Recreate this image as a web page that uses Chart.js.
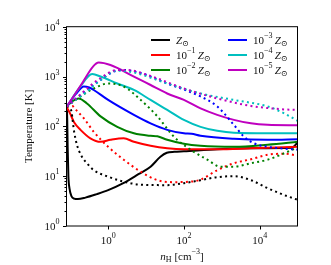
<!DOCTYPE html>
<html>
<head>
<meta charset="utf-8">
<script src="https://cdn.jsdelivr.net/npm/chart.js@4.4.1/dist/chart.umd.min.js"></script>
<style>
  html, body { margin: 0; padding: 0; background: #fff; }
</style>
</head>
<body>
<canvas id="chart" width="331" height="265"></canvas>
<script>
// --- DATA (log10 values) ---
// Solid lines
const solarN = [-1.09, -1.08, -1.07, -1.05, -1.02, -0.97, -0.9, -0.8, -0.6, -0.3, 0, 0.4, 0.8, 1.12, 1.38, 1.55, 1.75, 2.0, 2.9, 3.8, 4.85, 5.03];
const solarT = [2.40, 2.1, 1.6, 1.0, 0.75, 0.6, 0.55, 0.54, 0.57, 0.64, 0.72, 0.86, 1.04, 1.19, 1.39, 1.47, 1.49, 1.50, 1.54, 1.56, 1.57, 1.70];
const z1N = [-1.09, -1.0, -0.9, -0.73, -0.47, -0.2, 0.06, 0.41, 0.68, 1.12, 1.56, 2.0, 2.88, 3.77, 5.03];
const z1T = [2.38, 2.25, 2.08, 1.93, 1.76, 1.69, 1.73, 1.76, 1.69, 1.61, 1.56, 1.54, 1.54, 1.56, 1.59];
const z2N = [-1.09, -0.95, -0.78, -0.56, -0.2, 0.24, 0.68, 1.12, 1.3, 1.56, 2.0, 2.44, 3.32, 4.21, 5.03];
const z2T = [2.40, 2.5, 2.56, 2.46, 2.20, 1.99, 1.86, 1.81, 1.80, 1.73, 1.65, 1.61, 1.59, 1.63, 1.69];
const z3N = [-1.09, -0.85, -0.64, -0.5, -0.38, 0, 0.68, 1.12, 1.56, 2.0, 2.2, 2.44, 3.32, 4.21, 5.03];
const z3T = [2.40, 2.65, 2.80, 2.78, 2.73, 2.53, 2.23, 2.06, 1.93, 1.86, 1.85, 1.81, 1.75, 1.73, 1.74];
const z4N = [-1.09, -0.75, -0.42, -0.2, 0.24, 0.68, 1.12, 1.56, 2.0, 2.44, 2.88, 3.32, 4.21, 5.03];
const z4T = [2.40, 2.78, 3.05, 3.00, 2.86, 2.73, 2.53, 2.33, 2.13, 1.99, 1.91, 1.87, 1.86, 1.86];
const z5N = [-1.09, -0.7, -0.4, -0.25, 0.06, 0.68, 1.12, 1.56, 2.0, 2.44, 2.88, 3.32, 3.77, 4.21, 5.03];
const z5T = [2.40, 2.85, 3.2, 3.28, 3.23, 3.00, 2.83, 2.66, 2.53, 2.36, 2.23, 2.13, 2.06, 2.03, 2.02];

// Dotted lines
const solarDotN = [-1.09, -1.02, -0.97, -0.9, -0.82, -0.7, -0.55, -0.38, 0, 0.41, 0.86, 1.56, 2.0, 2.44, 2.88, 3.32, 3.77, 4.21, 4.65, 5.03];
const solarDotT = [2.40, 2.38, 2.3, 1.9, 1.62, 1.4, 1.25, 1.12, 0.99, 0.89, 0.83, 0.82, 0.86, 0.92, 0.98, 1.0, 0.92, 0.76, 0.62, 0.52];
const z1DotN = [-1.09, -0.95, -0.85, -0.64, -0.38, 0, 0.41, 0.86, 1.3, 1.74, 2.18, 2.44, 2.88, 3.32, 3.77, 4.21, 4.65, 5.03];
const z1DotT = [2.40, 2.41, 2.33, 2.16, 1.89, 1.59, 1.33, 1.09, 0.92, 0.88, 0.89, 0.93, 1.12, 1.26, 1.34, 1.43, 1.45, 1.41];
const z2DotN = [-1.09, -0.73, -0.38, 0, 0.41, 0.86, 1.3, 1.74, 2.18, 2.62, 2.97, 3.32, 3.77, 4.21, 4.65, 5.03];
const z2DotT = [2.40, 2.60, 2.76, 2.86, 2.80, 2.53, 2.20, 1.79, 1.53, 1.33, 1.19, 1.19, 1.26, 1.33, 1.46, 1.59];
const z3DotN = [-1.09, -0.56, -0.2, 0.15, 0.41, 0.86, 1.56, 2.44, 2.88, 3.32, 3.59, 3.85, 4.21, 5.03];
const z3DotT = [2.40, 2.73, 2.93, 3.10, 3.13, 3.07, 2.86, 2.60, 2.40, 2.03, 1.79, 1.66, 1.59, 1.53];
const z4DotN = [-1.09, -0.56, -0.2, 0.24, 0.68, 1.56, 2.44, 3.32, 4.21, 4.65, 5.03];
const z4DotT = [2.40, 2.70, 2.93, 3.12, 3.08, 2.86, 2.66, 2.53, 2.40, 2.26, 2.10];
const z5DotN = [-1.09, -0.2, 0.24, 0.5, 1.12, 2.0, 2.88, 3.77, 4.65, 5.03];
const z5DotT = [2.40, 2.97, 3.13, 3.13, 3.01, 2.76, 2.56, 2.41, 2.34, 2.33];

const yTickExps = [0, 1, 2, 3, 4];
const xTickExps = [0, 2, 4];
const legendExps = [null, -1, -2, -3, -4, -5];

const colors = ['#000000', '#ff0000', '#008000', '#0000ff', '#00bfbf', '#bf00bf'];
const SERIF = '"Liberation Serif", "DejaVu Serif", serif';

const pts = (n, t) => n.map((v, i) => ({ x: 10 ** v, y: 10 ** t[i] }));

const solid = [[solarN, solarT], [z1N, z1T], [z2N, z2T], [z3N, z3T], [z4N, z4T], [z5N, z5T]];
const dotted = [[solarDotN, solarDotT], [z1DotN, z1DotT], [z2DotN, z2DotT], [z3DotN, z3DotT], [z4DotN, z4DotT], [z5DotN, z5DotT]];

const datasets = [];
solid.forEach(([n, t], i) => datasets.push({
  data: pts(n, t), borderColor: colors[i], borderWidth: 2, pointRadius: 0,
  cubicInterpolationMode: 'monotone', order: 12 - i
}));
dotted.forEach(([n, t], i) => datasets.push({
  data: pts(n, t), borderColor: colors[i], borderWidth: 2, pointRadius: 0,
  borderDash: [2, 3.3], borderCapStyle: 'butt',
  cubicInterpolationMode: 'monotone', order: 6 - i
}));

// Draw text made of parts (base, superscript, subscript, italic)
function drawParts(ctx, parts, x, y, align) {
  const widths = parts.map(p => {
    ctx.font = `${p.italic ? 'italic ' : ''}${p.size}px ${SERIF}`;
    return ctx.measureText(p.t).width;
  });
  const total = widths.reduce((a, b) => a + b, 0);
  let cx = align === 'right' ? x - total : align === 'center' ? x - total / 2 : x;
  parts.forEach((p, i) => {
    ctx.font = `${p.italic ? 'italic ' : ''}${p.size}px ${SERIF}`;
    ctx.fillText(p.t, cx, y + (p.dy || 0));
    cx += widths[i];
  });
}

const powerLabel = (e) => [{ t: '10', size: 11 }, { t: String(e).replace('-', '\u2212'), size: 8, dy: -5 }];

const decorations = {
  id: 'decorations',
  afterDraw(chart) {
    const { ctx, chartArea: a, scales: { x, y } } = chart;
    ctx.save();
    ctx.strokeStyle = '#000';
    ctx.fillStyle = '#111';
    ctx.lineWidth = 1;
    ctx.strokeRect(a.left, a.top, a.right - a.left, a.bottom - a.top);

    // y ticks (major + minor), x ticks (major only)
    ctx.beginPath();
    yTickExps.forEach(e => {
      const py = Math.round(y.getPixelForValue(10 ** e)) + 0.5;
      ctx.moveTo(a.left, py); ctx.lineTo(a.left - 3.5, py);
      if (e < 4) {
        for (let k = 2; k <= 9; k++) {
          const my = Math.round(y.getPixelForValue(k * 10 ** e)) + 0.5;
          ctx.moveTo(a.left, my); ctx.lineTo(a.left - 2, my);
        }
      }
    });
    xTickExps.forEach(e => {
      const px = Math.round(x.getPixelForValue(10 ** e)) + 0.5;
      ctx.moveTo(px, a.bottom); ctx.lineTo(px, a.bottom + 3.5);
    });
    ctx.stroke();

    ctx.textBaseline = 'middle';
    ctx.textAlign = 'left';
    yTickExps.forEach(e => {
      drawParts(ctx, powerLabel(e), a.left - 7, y.getPixelForValue(10 ** e) + 1, 'right');
    });
    xTickExps.forEach(e => {
      drawParts(ctx, powerLabel(e), x.getPixelForValue(10 ** e), a.bottom + 15, 'center');
    });

    // axis titles
    drawParts(ctx, [{ t: 'n', size: 11, italic: true }, { t: 'H', size: 8, dy: 3 }, { t: ' [cm', size: 11 },
      { t: '\u22123', size: 8, dy: -5 }, { t: ']', size: 11 }], (a.left + a.right) / 2, 257, 'center');
    ctx.save();
    ctx.translate(29, (a.top + a.bottom) / 2);
    ctx.rotate(-Math.PI / 2);
    drawParts(ctx, [{ t: 'Temperature [K]', size: 11 }], 0, 0, 'center');
    ctx.restore();

    // legend (two columns)
    const rows = [40, 55, 70];
    const cols = [[151, 176], [228, 253]];
    legendExps.forEach((e, i) => {
      const [lx, tx] = cols[Math.floor(i / 3)];
      const ry = rows[i % 3];
      ctx.strokeStyle = colors[i];
      ctx.lineWidth = 2;
      ctx.beginPath(); ctx.moveTo(lx, ry); ctx.lineTo(lx + 19, ry); ctx.stroke();
      const parts = e === null ? [] : [...powerLabel(e), { t: '\u2009', size: 11 }];
      parts.push({ t: 'Z', size: 11, italic: true }, { t: '\u2299', size: 8, dy: 3 });
      drawParts(ctx, parts, tx, ry + 1, 'left');
    });
    ctx.restore();
  }
};

new Chart(document.getElementById('chart').getContext('2d'), {
  type: 'line',
  data: { datasets },
  options: {
    responsive: false,
    animation: false,
    layout: { padding: { top: 26.7, right: 33.5, left: 0, bottom: 0 } },
    plugins: { legend: { display: false }, tooltip: { enabled: false } },
    scales: {
      x: {
        type: 'logarithmic', min: 10 ** -1.1, max: 1e5,
        grid: { display: false }, border: { display: false },
        ticks: { display: false },
        afterFit(s) { s.height = 39; }
      },
      y: {
        type: 'logarithmic', min: 1, max: 1e4,
        grid: { display: false }, border: { display: false },
        ticks: { display: false },
        afterFit(s) { s.width = 66.5; }
      }
    }
  },
  plugins: [decorations]
});
</script>
</body>
</html>
